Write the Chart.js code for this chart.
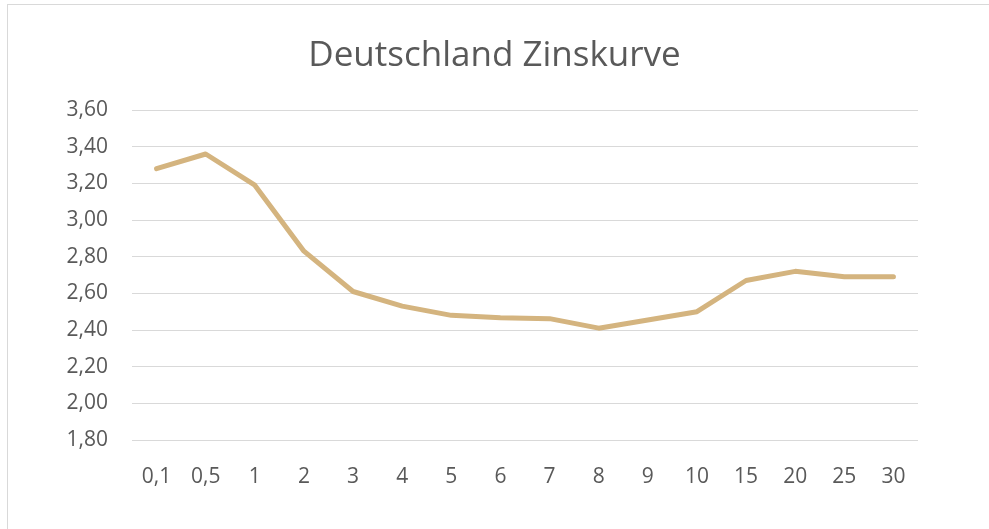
<!DOCTYPE html>
<html>
<head>
<meta charset="utf-8">
<script src="https://cdn.jsdelivr.net/npm/chart.js@4"></script>
<style>
    html, body { margin: 0; padding: 0; background: #fff; }
    #frame {
        position: absolute; left: 7px; top: 4px; width: 990px; height: 530px;
        border-top: 1px solid #d9d9d9; border-left: 1px solid #d9d9d9;
    }
    #wrap { position: absolute; left: 0; top: 0; width: 989px; height: 529px; }
</style>
</head>
<body>
<div id="frame"></div>
<div id="wrap"><canvas id="zins_chart" width="989" height="529"></canvas></div>
<script>
// Laufzeiten (Jahre)
const laufzeiten = ['0,1', '0,5', '1', '2', '3', '4', '5', '6', '7', '8', '9', '10', '15', '20', '25', '30'];
// Rendite in %
const renditen = [3.28, 3.36, 3.19, 2.83, 2.61, 2.53, 2.48, 2.467, 2.462, 2.41, 2.455, 2.50, 2.67, 2.72, 2.69, 2.69];
// Achse
const y_min = 1.8;
const y_max = 3.6;
const y_step = 0.2;

const font_family = '"Open Sans", "Noto Sans", sans-serif';

const ctx = document.getElementById('zins_chart').getContext('2d');
new Chart(ctx, {
    type: 'line',
    data: {
        labels: laufzeiten,
        datasets: [{
            label: 'Zinskurve',
            data: renditen,
            borderColor: '#d4b47f',
            borderWidth: 5,
            borderCapStyle: 'round',
            borderJoinStyle: 'round',
            pointRadius: 0,
            tension: 0,
            yAxisID: 'y',
        }]
    },
    options: {
        responsive: false,
        animation: false,
        layout: { padding: { left: 0, right: 0, top: 0, bottom: 29 } },
        plugins: {
            legend: { display: false },
            tooltip: { enabled: false },
            title: {
                display: true,
                text: 'Deutschland Zinskurve',
                color: '#595959',
                font: { family: font_family, size: 35, weight: 'normal', lineHeight: 1.2 },
                padding: { top: 35, bottom: 33 },
            }
        },
        scales: {
            x: {
                offset: true,
                grid: { display: false, drawTicks: false },
                border: { display: false },
                ticks: {
                    color: '#595959',
                    font: { family: font_family, size: 21 },
                    padding: 24,
                    maxRotation: 0,
                    autoSkip: false,
                },
                afterFit: function(scale) { scale.height = 60; }
            },
            y: {
                min: y_min,
                max: y_max,
                grid: { color: '#d9d9d9', lineWidth: 1, drawTicks: false },
                border: { display: false },
                ticks: {
                    stepSize: y_step,
                    color: '#595959',
                    font: { family: font_family, size: 21 },
                    padding: 24,
                    callback: function(v) { return v.toFixed(2).replace('.', ','); }
                },
                afterFit: function(scale) { scale.width = 132; }
            },
            // leerer Platz rechts, damit der Titel mittig bleibt
            rechts: {
                position: 'right',
                display: true,
                grid: { display: false, drawTicks: false },
                border: { display: false },
                ticks: { display: false },
                afterFit: function(scale) { scale.width = 71; }
            }
        }
    }
});
</script>
</body>
</html>
